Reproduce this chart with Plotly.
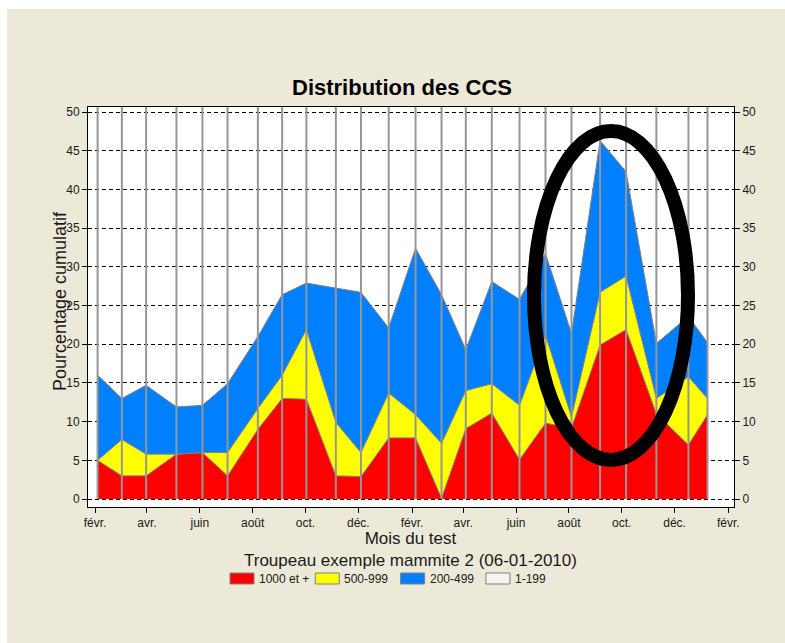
import plotly.graph_objects as go

# ---------------- data ----------------
dates = ["2008-02-04", "2008-03-03", "2008-03-31", "2008-05-05", "2008-06-04", "2008-07-03",
         "2008-08-07", "2008-09-04", "2008-10-02", "2008-11-05", "2008-12-04", "2009-01-05",
         "2009-02-05", "2009-03-07", "2009-04-04", "2009-05-04", "2009-06-05", "2009-07-05",
         "2009-08-04", "2009-09-06", "2009-10-06", "2009-11-10", "2009-12-17", "2010-01-08"]
cum_1000 = [5.0, 3.0, 3.0, 5.8, 6.0, 3.0, 9.0, 13.0, 12.9, 3.0, 2.9, 7.9,
            7.9, 0.1, 9.1, 11.1, 5.1, 9.8, 9.2, 19.9, 21.9, 11.0, 7.0, 10.9]
cum_500 = [5.0, 7.7, 5.8, 5.8, 6.0, 6.0, 11.7, 16.0, 21.9, 9.9, 6.0, 13.7,
           10.9, 7.2, 14.0, 14.9, 12.1, 21.2, 10.6, 26.7, 28.8, 13.0, 15.8, 13.0]
cum_200 = [16.0, 13.0, 14.7, 11.9, 12.1, 14.9, 21.0, 26.4, 27.9, 27.2, 26.7, 22.1,
           32.4, 26.4, 19.3, 28.1, 25.8, 31.7, 21.4, 46.3, 42.3, 20.1, 23.6, 20.2]
series_names = ["1000 et +", "500-999", "200-499", "1-199"]
series_colors = ["#FF0000", "#FFFF00", "#0080FF", "#F4F4F4"]
tick_dates = ["2008-02-01", "2008-04-01", "2008-06-01", "2008-08-01", "2008-10-01", "2008-12-01",
              "2009-02-01", "2009-04-01", "2009-06-01", "2009-08-01", "2009-10-01", "2009-12-01",
              "2010-02-01"]
tick_labels = ["févr.", "avr.", "juin", "août", "oct.", "déc.",
               "févr.", "avr.", "juin", "août", "oct.", "déc.", "févr."]
y_ticks = list(range(0, 51, 5))

# ---------------- layout helpers ----------------
W, H = 785, 643
ML, MR, MT, MB = 88, 51, 107, 136
PW, PH = W - ML - MR, H - MT - MB
FONT = "Liberation Sans, Arial, sans-serif"
BG = "#ECE9D8"
Y_RANGE = [-1.03, 50.65]
X_RANGE = ["2008-01-23 22:00", "2010-02-07 14:00"]


def px(x):
    return (x - ML) / PW


def py(y):
    return (H - MB - y) / PH


fig = go.Figure()

series_vals = [cum_1000, cum_500, cum_200]
fills = ["tozeroy", "tonexty", "tonexty"]
for name, vals, col, fl in zip(series_names[:3], series_vals, series_colors[:3], fills):
    fig.add_trace(go.Scatter(
        x=dates, y=vals, name=name, mode="lines", fill=fl, fillcolor=col,
        line=dict(color="#808080", width=1), showlegend=False, hoverinfo="x+y+name"))

# helper trace so the right-hand axis is drawn
fig.add_trace(go.Scatter(x=[dates[0]], y=[0], yaxis="y2", mode="markers",
                         marker=dict(opacity=0), showlegend=False, hoverinfo="skip"))

shapes = []
# white strips around the beige frame
shapes.append(dict(type="rect", xref="paper", yref="paper", x0=px(0), x1=px(W), y0=py(9), y1=py(0),
                   fillcolor="white", line=dict(width=0), layer="below"))
shapes.append(dict(type="rect", xref="paper", yref="paper", x0=px(0), x1=px(7), y0=py(H), y1=py(0),
                   fillcolor="white", line=dict(width=0), layer="below"))
# vertical grey lines at each test date
for d in dates:
    shapes.append(dict(type="line", xref="x", yref="y", x0=d, x1=d, y0=0, y1=Y_RANGE[1],
                       line=dict(color="#969696", width=2), layer="above"))
# highlighting ellipse
shapes.append(dict(type="circle", xref="paper", yref="paper",
                   x0=px(534), x1=px(688), y0=py(460), y1=py(131),
                   line=dict(color="black", width=14), layer="above"))

annotations = []
# manual legend
for i, (name, col) in enumerate(zip(series_names, series_colors)):
    x0 = 230 + i * 85.3
    shapes.append(dict(type="rect", xref="paper", yref="paper", x0=px(x0), x1=px(x0 + 24),
                       y0=py(584), y1=py(573), fillcolor=col,
                       line=dict(color="#808080", width=1), layer="above"))
    annotations.append(dict(xref="paper", yref="paper", x=px(x0 + 27), y=py(578.5),
                            text=name, showarrow=False, xanchor="left", yanchor="middle",
                            font=dict(family=FONT, size=12, color="#1a1a1a")))

annotations += [
    dict(xref="paper", yref="paper", x=px(401.5), y=py(88), text="<b>Distribution des CCS</b>",
         showarrow=False, xanchor="center", yanchor="middle",
         font=dict(family=FONT, size=22, color="black")),
    dict(xref="paper", yref="paper", x=px(60), y=py(301), text="Pourcentage cumulatif",
         showarrow=False, xanchor="center", yanchor="middle", textangle=-90,
         font=dict(family=FONT, size=18, color="#1a1a1a")),
    dict(xref="paper", yref="paper", x=px(410.5), y=py(549.5),
         text="Mois du test<br>Troupeau exemple mammite 2 (06-01-2010)",
         showarrow=False, xanchor="center", yanchor="middle", align="center",
         font=dict(family=FONT, size=17, color="#1a1a1a")),
]

axis_font = dict(family=FONT, size=12, color="#1a1a1a")
fig.update_layout(
    width=W, height=H, margin=dict(l=ML, r=MR, t=MT, b=MB, pad=0),
    paper_bgcolor=BG, plot_bgcolor="white", showlegend=False,
    shapes=shapes, annotations=annotations,
    xaxis=dict(type="date", range=X_RANGE, tickvals=tick_dates, ticktext=tick_labels,
               ticks="outside", ticklen=5, tickcolor="black", tickfont=axis_font,
               showgrid=False, zeroline=False, showline=True, linecolor="black",
               linewidth=1, mirror=True),
    yaxis=dict(range=Y_RANGE, tickvals=y_ticks, ticks="outside", ticklen=5, tickcolor="black",
               tickfont=axis_font, showgrid=True, gridcolor="black", gridwidth=1,
               griddash="4px,3px", zeroline=False, showline=True, linecolor="black",
               linewidth=1, mirror=True),
    yaxis2=dict(range=Y_RANGE, tickvals=y_ticks, overlaying="y", side="right", matches="y",
                ticks="outside", ticklen=5, tickcolor="black", tickfont=axis_font,
                showgrid=False, zeroline=False, showline=False),
)

fig.write_html("out.html", config={"displayModeBar": False},
               post_script="document.body.style.margin='0';")
